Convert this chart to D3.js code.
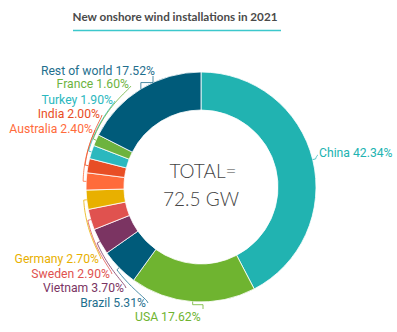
<!DOCTYPE html>
<html><head><meta charset="utf-8">
<script src="https://cdn.jsdelivr.net/npm/d3@7"></script>
<style>html,body{margin:0;padding:0;background:#fff;}svg{display:block;}</style>
</head><body>
<svg id="chart" width="397" height="332"></svg>
<script>
// ---- data ----
const categories = ["China","USA","Brazil","Vietnam","Sweden","Germany","Australia","India","Turkey","France","Rest of world"];
const shares = [42.34,17.62,5.31,3.70,2.90,2.70,2.40,2.00,1.90,1.60,17.52];
const sliceColors = ["#21b3b1","#6fb430","#005b7a","#7b3462","#e0524f","#e8b000","#ff6b3b","#e84e25","#2bb8be","#6db33f","#005b7a"];
const labelColors = ["#21b3b1","#6fb430","#1f6f8e","#7b3462","#e0524f","#e8b000","#ff6b3b","#e84e25","#2bb8be","#6db33f","#1f6f8e"];
const title = "New onshore wind installations in 2021";
const totalLines = ["TOTAL=", "72.5 GW"];

// ---- layout (label placement) ----
const labelLayout = [
  {x:319, y:157, anchor:"start", ax:318, ay:155},   // China
  {x:135, y:321, anchor:"start", ax:203, ay:309, bracket:true}, // USA
  {x:146, y:307, anchor:"end", ax:148, ay:303},    // Brazil
  {x:124, y:292, anchor:"end", ax:126, ay:288},    // Vietnam
  {x:110, y:278, anchor:"end", ax:112, ay:274},    // Sweden
  {x:99,  y:263, anchor:"end", ax:101, ay:259},    // Germany
  {x:93,  y:133, anchor:"end", ax:95,  ay:130},    // Australia
  {x:100, y:118, anchor:"end", ax:102, ay:115},    // India
  {x:113, y:104, anchor:"end", ax:115, ay:101},    // Turkey
  {x:129, y:88,  anchor:"end", ax:131, ay:86},     // France
  {x:155, y:75,  anchor:"end", ax:153, ay:76, bracket:true} // Rest of world
];

const W = 397, H = 332, cx = 201, cy = 187, R = 115, r0 = 77;
const svg = d3.select("#chart");

// title
svg.append("text").attr("x", 175).attr("y", 21).attr("text-anchor","middle")
  .attr("font-family","Lato, 'Open Sans', sans-serif").attr("font-weight",700)
  .attr("font-size", 12).attr("fill","#4a4a4a").text(title)
  .each(function(){ const w=this.getComputedTextLength(); d3.select(this).attr("font-size", 12*205/w); });
svg.append("line").attr("x1",73).attr("x2",281).attr("y1",30.5).attr("y2",30.5)
  .attr("stroke","#3cc8cc").attr("stroke-width",1.6);

const data = categories.map((c,i)=>({name:c, value:shares[i], i}));
const pie = d3.pie().sort(null).value(d=>d.value);
const arcs = pie(data);
const arcGen = d3.arc().innerRadius(r0).outerRadius(R);
const g = svg.append("g").attr("transform",`translate(${cx},${cy})`);
g.selectAll("path.slice").data(arcs).join("path").attr("class","slice")
  .attr("d", arcGen).attr("fill", d=>sliceColors[d.data.i])
  .attr("stroke","#fff").attr("stroke-width",0.8);

// leader lines
const polar = (r,a)=>[r*Math.sin(a), -r*Math.cos(a)];
const lineGen = d3.line();
arcs.forEach(d=>{
  const L = labelLayout[d.data.i];
  const mid = (d.startAngle+d.endAngle)/2;
  const ax = L.ax-cx, ay = L.ay-cy;
  let pts = [];
  if (L.bracket) {
    const p = polar(R, mid);
    const e = polar(R+4, mid);
    pts = [[ax,ay],[ax, e[1] + (ay<0? -3: 0)],[p[0], e[1] + (ay<0? -3:0)],p];
    if (ay>0) pts = [p,[p[0], p[1]+3],[ax, p[1]+3],[ax, ay]];
  } else {
    let ta = Math.atan2(ax, -ay); if (ta<0) ta += 2*Math.PI;
    const ra = Math.hypot(ax, ay);
    let diff = mid - ta;
    const n = 24;
    for (let k=0;k<=n;k++){
      const t=k/n;
      const ang = ta + diff*t;
      const rr = ra + (R+3-ra)*Math.pow(t,0.6);
      pts.push(polar(rr, ang));
    }
    pts.push(polar(R, mid));
  }
  g.append("path").attr("d", lineGen(pts)).attr("fill","none")
    .attr("stroke", labelColors[d.data.i]).attr("stroke-width",0.8);
});

// labels
svg.selectAll("text.lab").data(data).join("text").attr("class","lab")
  .attr("x", d=>labelLayout[d.i].x).attr("y", d=>labelLayout[d.i].y)
  .attr("text-anchor", d=>labelLayout[d.i].anchor)
  .attr("font-family","Roboto, sans-serif").attr("font-size",12.2)
  .attr("fill", d=>labelColors[d.i])
  .text(d=>`${d.name} ${d.value.toFixed(2)}%`);

// center text
svg.append("text").attr("x",203).attr("y",178).attr("text-anchor","middle")
  .attr("font-family","Lato, sans-serif").attr("font-weight",300).attr("font-size",19)
  .attr("fill","#444").text(totalLines[0]);
svg.append("text").attr("x",201).attr("y",206).attr("text-anchor","middle")
  .attr("font-family","Lato, sans-serif").attr("font-weight",300).attr("font-size",19)
  .attr("fill","#444").text(totalLines[1]);
</script>
</body></html>
